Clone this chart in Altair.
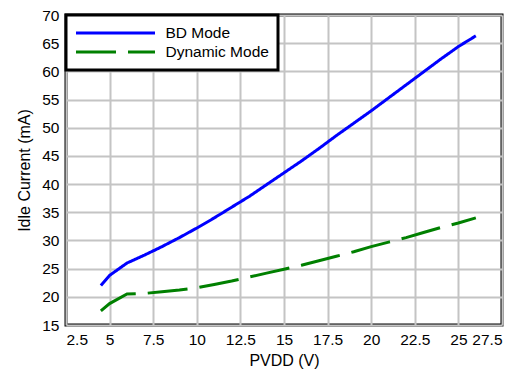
import altair as alt
import pandas as pd

pvdd = [4.5, 5, 6, 7, 8, 9, 10, 11, 12, 13, 14, 15, 16, 17, 18, 19, 20, 21, 22, 23, 24, 25, 26]
bd_mode = [22.0, 23.8, 26.0, 27.4, 28.9, 30.5, 32.2, 34.0, 35.9, 37.8, 39.9, 42.0, 44.1,
           46.3, 48.6, 50.8, 53.0, 55.3, 57.6, 59.9, 62.2, 64.4, 66.3]
dynamic_mode = [17.5, 18.8, 20.5, 20.6, 20.9, 21.2, 21.6, 22.2, 22.8, 23.5, 24.2, 24.9, 25.6,
                26.4, 27.2, 28.0, 28.9, 29.7, 30.5, 31.4, 32.3, 33.1, 34.0]
series = ["BD Mode", "Dynamic Mode"]
x_ticks = [2.5, 5, 7.5, 10, 12.5, 15, 17.5, 20, 22.5, 25, 27.5]
y_ticks = [15, 20, 25, 30, 35, 40, 45, 50, 55, 60, 65, 70]

rows = []
for i, x in enumerate(pvdd):
    rows.append({"PVDD": x, "Current": bd_mode[i], "Series": series[0], "order": i})
    rows.append({"PVDD": x, "Current": dynamic_mode[i], "Series": series[1], "order": i})
df = pd.DataFrame(rows)

FONT = "Liberation Sans"

chart = alt.Chart(df).mark_line(strokeWidth=3).encode(
    x=alt.X("PVDD:Q", title="PVDD (V)",
            scale=alt.Scale(domain=[2.5, 27.5], nice=False, zero=False),
            axis=alt.Axis(values=x_ticks, format=".1~f", labelPadding=7, titlePadding=5)),
    y=alt.Y("Current:Q", title="Idle Current (mA)",
            scale=alt.Scale(domain=[15, 70], nice=False, zero=False),
            axis=alt.Axis(values=y_ticks, labelPadding=7, titlePadding=9)),
    color=alt.Color("Series:N", title=None,
                    scale=alt.Scale(domain=series, range=["#0000ff", "#008000"])),
    strokeDash=alt.StrokeDash("Series:N", title=None,
                              scale=alt.Scale(domain=series, range=[[1, 0], [40, 12]])),
    order="order:Q",
).properties(
    width=436, height=310,
    autosize=alt.AutoSizeParams(type="none"),
    padding={"left": 66, "top": 15, "right": 22, "bottom": 49},
).configure_view(
    stroke="black", strokeWidth=3
).configure_axis(
    grid=True, gridColor="#c4c4c4", gridWidth=2, domain=False, ticks=False,
    labelFont=FONT, labelFontSize=15.5, labelColor="black",
    titleFont=FONT, titleFontSize=16, titleFontWeight="normal", titleColor="black",
).configure_legend(
    orient="top-left", offset=0, padding=8.5,
    strokeColor="black", strokeWidth=3, fillColor="white",
    symbolType="stroke", symbolSize=6241, symbolStrokeWidth=3,
    clipHeight=19, rowPadding=0, labelOffset=9,
    labelFont=FONT, labelFontSize=15.5, labelColor="black",
    cornerRadius=0,
)

chart.save("out.html", embed_options={"renderer": "svg", "actions": False})
